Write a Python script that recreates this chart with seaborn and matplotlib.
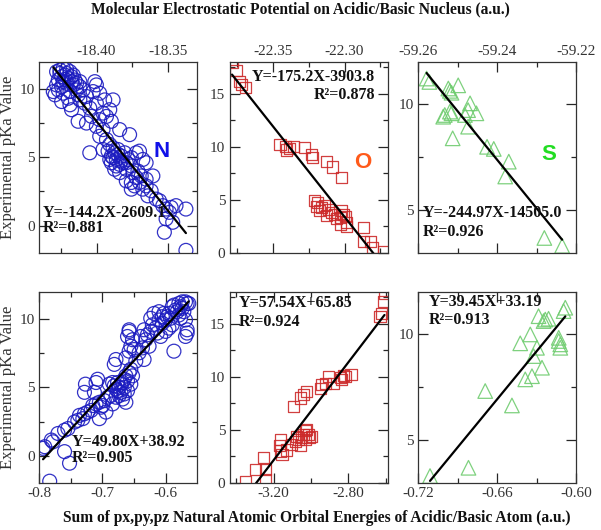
import matplotlib

matplotlib.use("Agg")
import matplotlib.pyplot as plt
import seaborn as sns

sns.set_theme(style="ticks")
plt.rcParams["font.family"] = ["Liberation Serif", "DejaVu Serif"]

# ---- N (circles) ----
n_top_x = [
    -18.4278, -18.4255, -18.4232, -18.4208, -18.4185, -18.4220, -18.4243, -18.4266,
    -18.4197, -18.4174, -18.4151, -18.4139, -18.4116, -18.4093, -18.4162, -18.4208,
    -18.4232, -18.4243, -18.4266, -18.4232, -18.4185, -18.4128, -18.4070, -18.4301,
    -18.4243, -18.4185, -18.4174, -18.4116, -18.4082, -18.4047, -18.4012, -18.4001,
    -18.4024, -18.3978, -18.4001, -18.3943, -18.3885, -18.3955, -18.3931, -18.3978,
    -18.3908, -18.4035, -18.4070, -18.4128, -18.4001, -18.3955, -18.3897, -18.3839,
    -18.3770, -18.4047, -18.3978, -18.3931, -18.3908, -18.3955, -18.3920, -18.3885,
    -18.3874, -18.3897, -18.3851, -18.3862, -18.3828, -18.3805, -18.3839, -18.3816,
    -18.3781, -18.3758, -18.3724, -18.3701, -18.3678, -18.3655, -18.3758, -18.3793,
    -18.3747, -18.3712, -18.3689, -18.3608, -18.3793, -18.3758, -18.3735, -18.3701,
    -18.3678, -18.3655, -18.3643, -18.3620, -18.3585, -18.3562, -18.3758, -18.3539,
    -18.3516, -18.3493, -18.3481, -18.3447, -18.3378, -18.3516, -18.3528, -18.3470,
    -18.3378, -18.3839, -18.3874, -18.3897, -18.3908, -18.3724, -18.3655,
    -18.4255, -18.4208, -18.4162, -18.4220, -18.4174, -18.4116, -18.4139, -18.4278,
    -18.4289, -18.4197, -18.3885, -18.3851, -18.3828, -18.3793, -18.3862,
]
n_top_y = [
    11.29, 11.41, 11.53, 11.46, 11.29, 11.04, 10.92, 10.68,
    10.80, 10.92, 10.68, 10.44, 10.19, 9.95, 10.32, 10.44,
    10.56, 10.19, 9.95, 9.71, 9.83, 9.59, 9.47, 9.83,
    9.10, 8.86, 8.50, 9.22, 8.98, 8.62, 10.56, 10.32,
    9.83, 9.71, 8.98, 9.22, 9.22, 8.25, 8.01, 7.77,
    8.50, 8.01, 7.52, 7.65, 7.28, 7.04, 7.65, 7.04,
    6.67, 5.34, 6.55, 6.31, 5.95, 5.58, 5.46, 5.70,
    5.34, 5.10, 5.58, 4.85, 5.10, 5.34, 4.49, 4.61,
    4.85, 4.98, 5.34, 5.46, 4.85, 4.61, 4.37, 4.13,
    3.88, 4.00, 3.64, 3.64, 3.28, 3.16, 2.91, 3.16,
    2.67, 2.91, 2.18, 2.55, 1.94, 1.82, 2.67, 1.46,
    1.21, 0.97, 1.33, 1.46, 1.21, 0.49, -0.49, 0.24,
    -1.82, 3.88, 4.13, 4.61, 4.85, 3.52, 3.40,
    11.16, 11.16, 11.04, 10.73, 10.56, 10.56, 9.95, 10.32,
    9.59, 9.34, 4.98, 5.22, 4.73, 4.61, 4.37,
]
n_bot_x = [
    -0.7911, -0.7937, -0.7806, -0.7780, -0.7832, -0.7597, -0.7518, -0.7701,
    -0.7597, -0.7544, -0.7439, -0.7387, -0.7361, -0.7308, -0.7282, -0.7230,
    -0.7177, -0.7151, -0.7099, -0.7046, -0.6994, -0.6942, -0.7046, -0.7020,
    -0.6968, -0.6915, -0.6863, -0.7125, -0.7099, -0.7073, -0.6889, -0.6837,
    -0.6810, -0.6784, -0.6758, -0.6732, -0.6706, -0.6680, -0.6653, -0.6627,
    -0.6601, -0.6575, -0.6549, -0.6522, -0.6653, -0.6601, -0.6732, -0.6680,
    -0.6627, -0.6549, -0.6837, -0.6810, -0.6784, -0.6627, -0.6575, -0.6549,
    -0.6575, -0.6601, -0.6522, -0.6496, -0.6418, -0.6339, -0.6470, -0.6365,
    -0.6313, -0.6260, -0.6234, -0.6156, -0.6129, -0.6182, -0.6103, -0.6051,
    -0.6025, -0.5972, -0.5920, -0.5894, -0.5841, -0.5789, -0.5763, -0.5736,
    -0.5684, -0.5658, -0.5632, -0.5710, -0.5684, -0.5658, -0.5684, -0.5658,
    -0.5867, -0.5998, -0.5789, -0.5894, -0.5946, -0.6077, -0.6208, -0.6287,
    -0.6391, -0.6339, -0.6575, -0.7266, -0.7282,
    -0.5867, -0.5815, -0.5736, -0.5946, -0.5998, -0.5763, -0.6103, -0.6051,
    -0.6234, -0.6758, -0.6706, -0.6784, -0.6653,
]
n_bot_y = [
    0.65, 0.53, 1.14, 1.01, -1.88, 0.29, -0.56, 1.62,
    1.86, 1.98, 2.46, 2.58, 2.95, 2.71, 3.07, 3.19,
    3.31, 3.67, 3.79, 3.91, 3.67, 3.19, 2.71, 3.55,
    4.03, 4.28, 4.40, 4.64, 5.36, 5.60, 5.24, 5.36,
    5.12, 4.88, 4.76, 5.00, 5.24, 5.36, 5.60, 5.85,
    5.48, 6.09, 6.33, 5.85, 5.00, 4.76, 4.40, 4.15,
    3.91, 5.24, 3.79, 6.69, 7.05, 7.17, 7.66, 8.02,
    9.11, 8.74, 8.50, 7.78, 7.54, 7.05, 6.93, 7.90,
    8.50, 8.02, 9.11, 9.35, 8.99, 10.43, 9.95, 9.71,
    10.43, 10.19, 10.07, 10.92, 10.68, 11.16, 10.92, 11.28,
    11.28, 11.16, 11.16, 10.56, 9.95, 9.23, 8.74, 8.99,
    7.66, 9.11, 10.31, 9.59, 9.35, 8.74, 9.59, 8.86,
    8.74, 9.23, 9.23, 5.24, 4.64,
    11.04, 10.56, 10.80, 10.43, 9.95, 10.07, 10.56, 10.19,
    10.07, 5.36, 4.64, 4.28, 4.52,
]

# ---- O (squares) ----
o_top_x = [
    -22.3783, -22.3755, -22.3731, -22.3717, -22.3689, -22.3449, -22.3412, -22.3384,
    -22.3403, -22.3355, -22.3278, -22.3231, -22.3224, -22.3125, -22.3083, -22.3019,
    -22.3207, -22.3195, -22.3160, -22.3172, -22.3137, -22.3114, -22.3090, -22.3125,
    -22.3067, -22.3055, -22.3019, -22.3031, -22.3008, -22.2996, -22.3031, -22.2984,
    -22.2984, -22.2871, -22.2866, -22.2819, -22.2808, -22.2725, -22.3191,
]
o_top_y = [
    17.95, 17.2, 16.2, 15.9, 15.6, 10.25, 10.0, 9.85,
    9.7, 10.0, 9.9, 9.3, 9.0, 8.6, 8.1, 7.1,
    4.9, 4.4, 4.3, 4.0, 4.5, 4.1, 3.8, 3.5,
    3.65, 3.2, 4.0, 3.3, 3.6, 3.4, 2.7, 2.85,
    2.5, 2.4, 1.1, 1.1, 0.5, 0.15, 4.75,
]
o_bot_x = [
    -3.351, -3.298, -3.253, -3.244, -3.244, -3.164, -3.170, -3.164,
    -3.155, -3.129, -3.102, -3.084, -3.076, -3.067, -3.049, -3.058,
    -3.040, -3.031, -3.022, -3.013, -3.010, -3.031, -2.996, -3.093,
    -3.058, -3.040, -3.022, -2.951, -2.942, -2.924, -2.907, -2.880,
    -2.844, -2.836, -2.818, -2.827, -2.786, -2.631, -2.622, -2.613,
    -2.607,
]
o_bot_y = [
    0.15, 1.26, 2.36, 1.26, 0.3, 4.1, 3.5, 3.0,
    2.7, 3.1, 3.6, 3.9, 4.4, 4.1, 4.25, 3.5,
    4.6, 4.9, 5.05, 4.6, 4.25, 4.1, 4.4, 7.2,
    8.0, 8.3, 8.6, 8.9, 9.3, 9.4, 10.05, 9.4,
    9.9, 9.75, 10.05, 10.1, 10.2, 15.7, 16.0, 17.1,
    17.9,
]

# ---- S (triangles) ----
s_top_x = [
    -59.2579, -59.2572, -59.2524, -59.2520, -59.2516, -59.2499, -59.2469, -59.2474,
    -59.2453, -59.2482, -59.2533, -59.2537, -59.2520, -59.2516, -59.2474, -59.2513,
    -59.2426, -59.2409, -59.2371, -59.2380, -59.2281, -59.2236,
]
s_top_y = [
    11.22, 11.06, 10.75, 10.64, 10.55, 10.9, 10.05, 9.73,
    9.58, 9.5, 9.5, 9.42, 9.66, 9.58, 8.95, 8.4,
    8.0, 7.9, 7.3, 6.6, 3.7, 3.33,
]
s_bot_x = [
    -0.7111, -0.6819, -0.6692, -0.6489, -0.6426, -0.6388, -0.6350, -0.6337,
    -0.6325, -0.6299, -0.6287, -0.6261, -0.6249, -0.6236, -0.6211, -0.6134,
    -0.6122, -0.6122, -0.6134, -0.6084, -0.6097,
]
s_bot_y = [
    3.32, 3.71, 7.33, 6.65, 9.58, 7.88, 10.0, 8.03,
    8.98, 9.37, 10.86, 8.43, 10.63, 10.7, 10.74, 9.69,
    9.53, 9.37, 9.84, 11.26, 11.1,
]

# fit labels as printed on the chart
n_top_eq, n_top_r2 = "Y=-144.2X-2609.1", "R²=0.881"
o_top_eq, o_top_r2 = "Y=-175.2X-3903.8", "R²=0.878"
s_top_eq, s_top_r2 = "Y=-244.97X-14505.0", "R²=0.926"
n_bot_eq, n_bot_r2 = "Y=49.80X+38.92", "R²=0.905"
o_bot_eq, o_bot_r2 = "Y=57.54X+65.85", "R²=0.924"
s_bot_eq, s_bot_r2 = "Y=39.45X+33.19", "R²=0.913"

N_COLOR = "#1c1cc0"
O_COLOR = "#cc2a2a"
S_COLOR = "#70cc70"


def draw_panel(ax, x, y, marker, color, size, xlim, ylim, xmajor, xminor,
               ymajor, yminor, xfmt, top):
    """散佈圖 + 迴歸線，Grace 風格的內向刻度"""
    sns.regplot(
        x=x, y=y, ax=ax, ci=None, color=color, marker=marker,
        scatter_kws={"s": size, "facecolors": "none", "edgecolors": color,
                     "linewidths": 0.9, "alpha": 0.9},
        line_kws={"color": "black", "lw": 1.6},
    )
    ax.set_xlim(xlim)
    ax.set_ylim(ylim)
    ax.set_xticks(xmajor)
    ax.set_xticks(xminor, minor=True)
    ax.set_yticks(ymajor)
    ax.set_yticks(yminor, minor=True)
    ax.set_xticklabels([xfmt.format(v) for v in xmajor])
    ax.set_yticklabels([f"{v:g}" for v in ymajor])
    ax.tick_params(which="both", direction="in", top=True, right=True,
                   bottom=True, left=True, labelsize=11, labelcolor="#333333",
                   pad=3)
    ax.tick_params(which="major", length=7, width=0.9)
    ax.tick_params(which="minor", length=3.5, width=0.9)
    ax.tick_params(axis="x", labeltop=top, labelbottom=not top)
    for sp in ax.spines.values():
        sp.set_linewidth(0.9)
        sp.set_color("#333333")
    ax.set_xlabel("")
    ax.set_ylabel("")


def add_fit_text(ax, eq, r2, x, y1, y2, ha="left"):
    for txt, yy in ((eq, y1), (r2, y2)):
        ax.text(x, yy, txt, transform=ax.transAxes, ha=ha, va="center",
                fontsize=11.5, fontweight="bold", color="#111111")


fig = plt.figure(figsize=(6.01, 5.30), dpi=100)
lefts = [0.065, 0.382, 0.696]
w, h = 0.263, 0.360
ax_nt = fig.add_axes([lefts[0], 0.523, w, h])
ax_ot = fig.add_axes([lefts[1], 0.523, w, h])
ax_st = fig.add_axes([lefts[2], 0.523, w, h])
ax_nb = fig.add_axes([lefts[0], 0.089, w, h])
ax_ob = fig.add_axes([lefts[1], 0.089, w, h])
ax_sb = fig.add_axes([lefts[2], 0.089, w, h])

draw_panel(ax_nt, n_top_x, n_top_y, "o", N_COLOR, 100, (-18.44, -18.33), (-2, 12),
           [-18.40, -18.35], [-18.425, -18.375], [0, 5, 10], [2.5, 7.5],
           "{:.2f}", True)
draw_panel(ax_ot, o_top_x, o_top_y, "s", O_COLOR, 64, (-22.38, -22.27), (0, 18),
           [-22.35, -22.30], [-22.375, -22.325, -22.275], [0, 5, 10, 15],
           [2.5, 7.5, 12.5, 17.5], "{:.2f}", True)
draw_panel(ax_st, s_top_x, s_top_y, "^", S_COLOR, 110, (-59.26, -59.22), (3, 12),
           [-59.26, -59.24, -59.22], [-59.25, -59.23], [5, 10], [7.5],
           "{:.2f}", True)
draw_panel(ax_nb, n_bot_x, n_bot_y, "o", N_COLOR, 100, (-0.80, -0.55), (-2, 12),
           [-0.8, -0.7, -0.6], [-0.75, -0.65], [0, 5, 10], [2.5, 7.5],
           "{:.1f}", False)
draw_panel(ax_ob, o_bot_x, o_bot_y, "s", O_COLOR, 64, (-3.435, -2.59), (0, 18),
           [-3.20, -2.80], [-3.40, -3.00, -2.60], [0, 5, 10, 15],
           [2.5, 7.5, 12.5, 17.5], "{:.2f}", False)
draw_panel(ax_sb, s_bot_x, s_bot_y, "^", S_COLOR, 110, (-0.72, -0.60), (3, 12),
           [-0.72, -0.66, -0.60], [-0.69, -0.63], [5, 10], [7.5],
           "{:.2f}", False)

add_fit_text(ax_nt, n_top_eq, n_top_r2, 0.025, 0.209, 0.131)
add_fit_text(ax_ot, o_top_eq, o_top_r2, 0.92, 0.921, 0.827, ha="right")
add_fit_text(ax_st, s_top_eq, s_top_r2, 0.025, 0.209, 0.11)
add_fit_text(ax_nb, n_bot_eq, n_bot_r2, 0.207, 0.215, 0.131)
add_fit_text(ax_ob, o_bot_eq, o_bot_r2, 0.057, 0.942, 0.843)
add_fit_text(ax_sb, s_bot_eq, s_bot_r2, 0.063, 0.948, 0.853)

# 原子標記
for ax, letter, col, xx, yy in ((ax_nt, "N", "#1010e8", 0.775, 0.529),
                                (ax_ot, "O", "#ff5a1a", 0.84, 0.471),
                                (ax_st, "S", "#22dd22", 0.823, 0.513)):
    ax.text(xx, yy, letter, transform=ax.transAxes, ha="center", va="center",
            fontsize=16, fontweight="bold", color=col,
            family=["Liberation Sans", "DejaVu Sans"])

fig.text(0.5, 0.983, "Molecular Electrostatic Potential on Acidic/Basic Nucleus (a.u.)",
         ha="center", va="center", fontsize=11.2, fontweight="bold", color="#111111")
fig.text(0.527, 0.023,
         "Sum of px,py,pz Natural Atomic Orbital Energies of Acidic/Basic Atom (a.u.)",
         ha="center", va="center", fontsize=11.2, fontweight="bold", color="#111111")
for yc in (0.703, 0.269):
    fig.text(0.014, yc, "Experimental pKa Value", rotation=90, ha="center",
             va="center", fontsize=12, color="#333333")

fig.savefig("out.png", dpi=100)
plt.close(fig)
